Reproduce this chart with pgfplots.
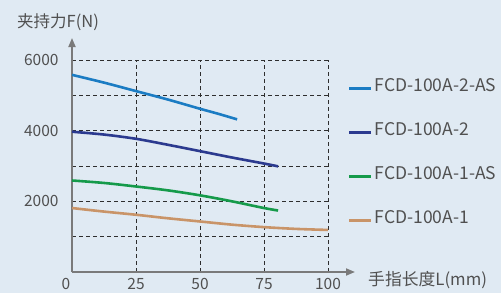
\documentclass[border=0pt]{standalone}
\usepackage{pgfplots}
\pgfplotsset{compat=1.18}
\usepackage{fontspec}
\setmainfont{Noto Sans CJK SC}
\usetikzlibrary{arrows.meta}
\definecolor{bg}{HTML}{E0EAF3}
\definecolor{txt}{HTML}{505050}
\definecolor{axc}{HTML}{7A7A7A}
\definecolor{cA}{HTML}{1B7CC3}
\definecolor{cB}{HTML}{2B3A8F}
\definecolor{cC}{HTML}{159A4A}
\definecolor{cD}{HTML}{C99468}
\begin{document}
\begin{tikzpicture}
\fill[bg] (0,0) rectangle (501bp,293bp);
\useasboundingbox (0,0) rectangle (501bp,293bp);
\begin{axis}[
  at={(72bp,21bp)}, anchor=south west,
  scale only axis, width=256bp, height=212bp,
  xmin=0, xmax=100, ymin=0, ymax=6000,
  axis lines=left,
  x axis line style={line width=1.8bp, color=axc, shorten >=-27bp, -{Triangle[length=9bp,width=7bp]}},
  y axis line style={line width=1.8bp, color=axc, shorten >=-22bp, -{Triangle[length=9bp,width=7bp]}},
  xtick={0,25,50,75,100},
  xticklabels={\makebox[0pt]{\hspace{-12bp}0},25,50,75,100},
  ytick={1000,2000,3000,4000,5000,6000},
  yticklabels={,2000,,4000,,6000},
  major tick length=0pt,
  grid=major,
  major grid style={dashed, dash pattern=on 4bp off 3bp, line width=0.9bp, color=black!82},
  tick label style={font=\fontsize{15.5bp}{18bp}\selectfont, text=txt},
  /pgf/number format/assume math mode=true,
  /pgf/number format/1000 sep={},
  xticklabel style={yshift=-3bp},
  yticklabel style={xshift=-10bp},
  clip=false,
  legend style={at={(axis description cs:1.078,0.907)}, anchor=north west, draw=none, fill=none, inner sep=0pt,
    row sep=27bp, font=\fontsize{17.5bp}{19bp}\selectfont, text=txt,
    nodes={text height=10bp, text depth=3bp, inner sep=2bp}},
  legend cell align=left,
  legend image code/.code={\draw[#1, line width=2.6bp] (0bp,0bp) -- (22bp,0bp);},
]
\addplot[cA, line width=2.6bp, smooth] coordinates {(0,5580) (12.5,5360) (25,5120) (37.5,4880) (50,4620) (57,4480) (64.5,4320)};
\addlegendentry{FCD-100A-2-AS}
\addplot[cB, line width=2.6bp, smooth] coordinates {(0,3970) (12.5,3890) (25,3770) (37.5,3600) (50,3420) (62.5,3240) (75,3070) (80.5,2990)};
\addlegendentry{FCD-100A-2}
\addplot[cC, line width=2.6bp, smooth] coordinates {(0,2590) (12.5,2520) (25,2420) (37.5,2310) (50,2170) (62.5,2000) (75,1810) (80.5,1740)};
\addlegendentry{FCD-100A-1-AS}
\addplot[cD, line width=2.6bp, smooth] coordinates {(0,1810) (12.5,1710) (25,1620) (37.5,1520) (50,1430) (62.5,1340) (75,1270) (87.5,1220) (100,1190)};
\addlegendentry{FCD-100A-1}
\end{axis}
\node[anchor=west, text=txt, font=\fontsize{16.5bp}{20bp}\selectfont, inner sep=0pt] at (17bp,271bp) {夹持力F(N)};
\node[anchor=west, text=txt, font=\fontsize{16.8bp}{20bp}\selectfont, inner sep=0pt] at (368bp,13bp) {手指长度L(mm)};
\end{tikzpicture}
\end{document}
